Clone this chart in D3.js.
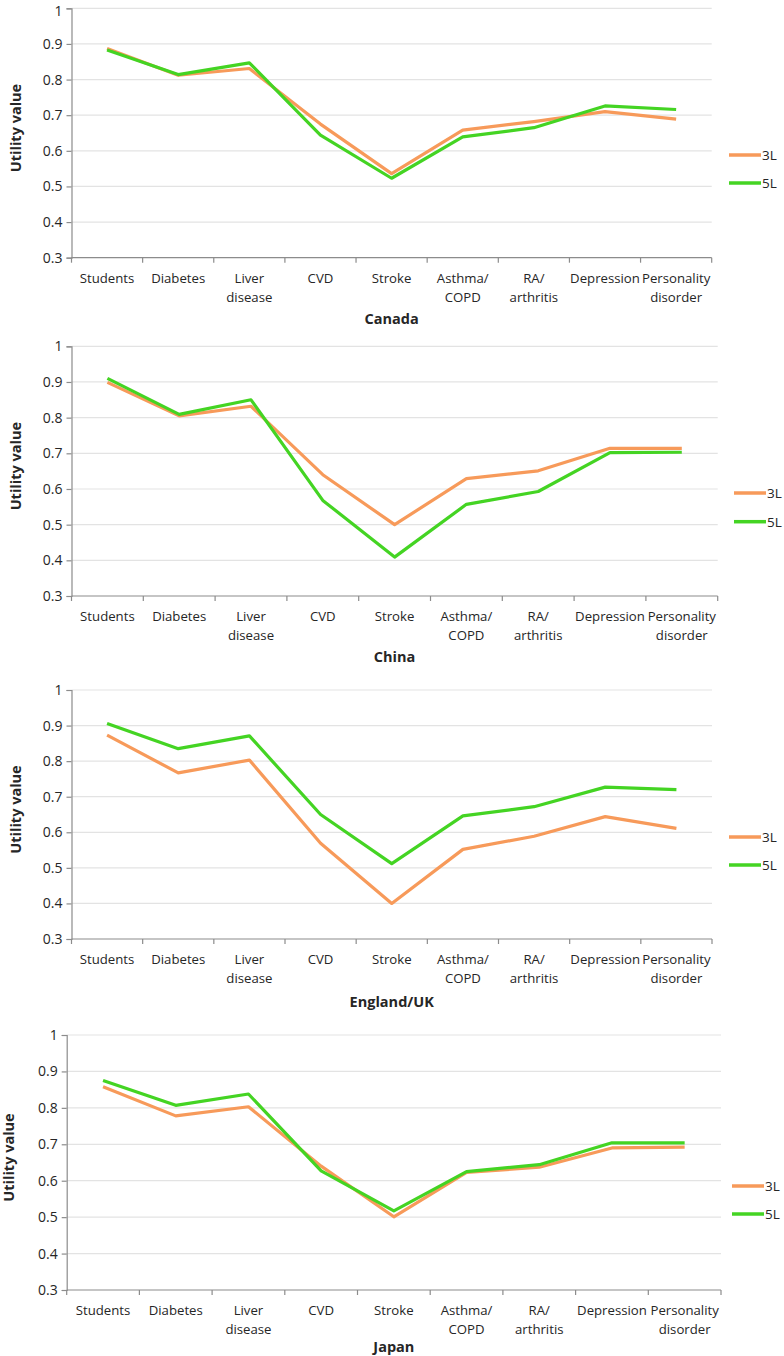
<!DOCTYPE html>
<html>
<head>
<meta charset="utf-8">
<script src="https://cdn.jsdelivr.net/npm/d3@7"></script>
<style>
  html, body { margin: 0; padding: 0; background: #fff; }
  svg { display: block; }
  text { font-family: "Open Sans", "DejaVu Sans", sans-serif; fill: #262626; }
</style>
</head>
<body>
<svg id="chart" width="784" height="1356"></svg>
<script>
// ---- data ----
const categories = ["Students", "Diabetes", "Liver\ndisease", "CVD", "Stroke", "Asthma/\nCOPD", "RA/\narthritis", "Depression", "Personality\ndisorder"];
const yTicks = [0.3, 0.4, 0.5, 0.6, 0.7, 0.8, 0.9, 1];
const seriesNames = ["3L", "5L"];
const countries = ["Canada", "China", "England/UK", "Japan"];

const canada3L = [0.887, 0.812, 0.831, 0.675, 0.536, 0.658, 0.682, 0.710, 0.689];
const canada5L = [0.883, 0.814, 0.847, 0.644, 0.523, 0.639, 0.665, 0.726, 0.716];
const china3L  = [0.899, 0.805, 0.832, 0.640, 0.500, 0.629, 0.651, 0.714, 0.714];
const china5L  = [0.910, 0.809, 0.850, 0.568, 0.409, 0.557, 0.593, 0.702, 0.703];
const uk3L     = [0.873, 0.767, 0.803, 0.569, 0.400, 0.552, 0.589, 0.644, 0.611];
const uk5L     = [0.906, 0.835, 0.871, 0.650, 0.512, 0.646, 0.672, 0.727, 0.720];
const japan3L  = [0.858, 0.778, 0.803, 0.640, 0.501, 0.623, 0.637, 0.690, 0.692];
const japan5L  = [0.875, 0.807, 0.838, 0.627, 0.517, 0.625, 0.644, 0.704, 0.704];

const panelData = [
  [canada3L, canada5L],
  [china3L, china5L],
  [uk3L, uk5L],
  [japan3L, japan5L]
];

// ---- layout (not data) ----
const layout = [
  { top: 8.3,  bottom: 257.7, left: 71.5, right: 711.7, legX: 729, legY: [155, 183],  ylabX: 15.5, titleY: 318 },
  { top: 346.3, bottom: 596,  left: 71.5, right: 717.7, legX: 734, legY: [493, 521.7], ylabX: 15.5, titleY: 656 },
  { top: 690,  bottom: 939,   left: 71.5, right: 712,   legX: 729, legY: [837, 865],  ylabX: 15.5, titleY: 1001 },
  { top: 1035, bottom: 1290,  left: 66.7, right: 721,   legX: 732, legY: [1186, 1214], ylabX: 8,  titleY: 1346 }
];
const colors = ["#F79A5A", "#44D423"];

const svg = d3.select("#chart");

layout.forEach((L, pi) => {
  const g = svg.append("g");
  const x = d3.scaleBand().domain(categories).range([L.left, L.right]).paddingInner(0).paddingOuter(0);
  const y = d3.scaleLinear().domain([0.3, 1]).range([L.bottom, L.top]);

  // gridlines
  g.append("g").selectAll("line").data(yTicks.filter(t => t > 0.3)).join("line")
    .attr("x1", L.left).attr("x2", L.right)
    .attr("y1", d => y(d)).attr("y2", d => y(d))
    .attr("stroke", "#E3E3E3").attr("stroke-width", 1.2);

  // y axis
  const yAxis = d3.axisLeft(y).tickValues(yTicks).tickSize(5).tickPadding(4)
    .tickFormat(d => d === 1 ? "1" : d3.format(".1f")(d));
  const ya = g.append("g").attr("transform", `translate(${L.left},0)`).call(yAxis);
  ya.select(".domain").attr("stroke", "#8C8C8C").attr("stroke-width", 1.2);
  ya.selectAll(".tick line").attr("stroke", "#8C8C8C").attr("stroke-width", 1.2);
  ya.selectAll(".tick text").attr("font-size", 14).attr("font-family", "Open Sans").attr("fill", "#262626");
  if (pi === 0) {
    ya.selectAll(".tick text").filter(d => d === 1).attr("dy", "0.5em");
  }

  // x axis line and ticks at band boundaries
  g.append("line").attr("x1", L.left).attr("x2", L.right)
    .attr("y1", L.bottom).attr("y2", L.bottom)
    .attr("stroke", "#8C8C8C").attr("stroke-width", 1.2);
  const bounds = categories.map(c => x(c)).concat([x(categories[categories.length - 1]) + x.bandwidth()]);
  g.append("g").selectAll("line").data(bounds).join("line")
    .attr("x1", d => d).attr("x2", d => d)
    .attr("y1", L.bottom).attr("y2", L.bottom + 5)
    .attr("stroke", "#8C8C8C").attr("stroke-width", 1.2);

  // category labels
  const lab = g.append("g").selectAll("text").data(categories).join("text")
    .attr("x", d => x(d) + x.bandwidth() / 2)
    .attr("y", L.bottom + 20)
    .attr("text-anchor", "middle")
    .attr("dominant-baseline", "central")
    .attr("font-size", 13.2);
  lab.each(function(d) {
    const parts = d.split("\n");
    const t = d3.select(this);
    parts.forEach((p, i) => {
      t.append("tspan").attr("x", x(d) + x.bandwidth() / 2).attr("dy", i === 0 ? 0 : 19).text(p);
    });
  });

  // lines
  const line = d3.line().x((v, i) => x(categories[i]) + x.bandwidth() / 2).y(v => y(v));
  panelData[pi].forEach((vals, si) => {
    g.append("path").datum(vals)
      .attr("d", line)
      .attr("fill", "none")
      .attr("stroke", colors[si])
      .attr("stroke-width", 3.2)
      .attr("stroke-linejoin", "round");
  });

  // y label
  g.append("text")
    .attr("transform", `translate(${L.ylabX},${(L.top + L.bottom) / 2 - 5}) rotate(-90)`)
    .attr("text-anchor", "middle")
    .attr("dominant-baseline", "central")
    .attr("font-size", 14.5).attr("font-weight", "bold")
    .attr("fill", "#000")
    .text("Utility value");

  // title
  g.append("text")
    .attr("x", (L.left + L.right) / 2)
    .attr("y", L.titleY)
    .attr("text-anchor", "middle")
    .attr("dominant-baseline", "central")
    .attr("font-size", 14.5).attr("font-weight", "bold")
    .attr("fill", "#000")
    .text(countries[pi]);

  // legend
  seriesNames.forEach((s, si) => {
    g.append("line")
      .attr("x1", L.legX).attr("x2", L.legX + 32)
      .attr("y1", L.legY[si]).attr("y2", L.legY[si])
      .attr("stroke", colors[si]).attr("stroke-width", 3.5);
    g.append("text")
      .attr("x", L.legX + 33).attr("y", L.legY[si])
      .attr("dominant-baseline", "central")
      .attr("font-size", 13.5)
      .text(s);
  });
});
</script>
</body>
</html>
